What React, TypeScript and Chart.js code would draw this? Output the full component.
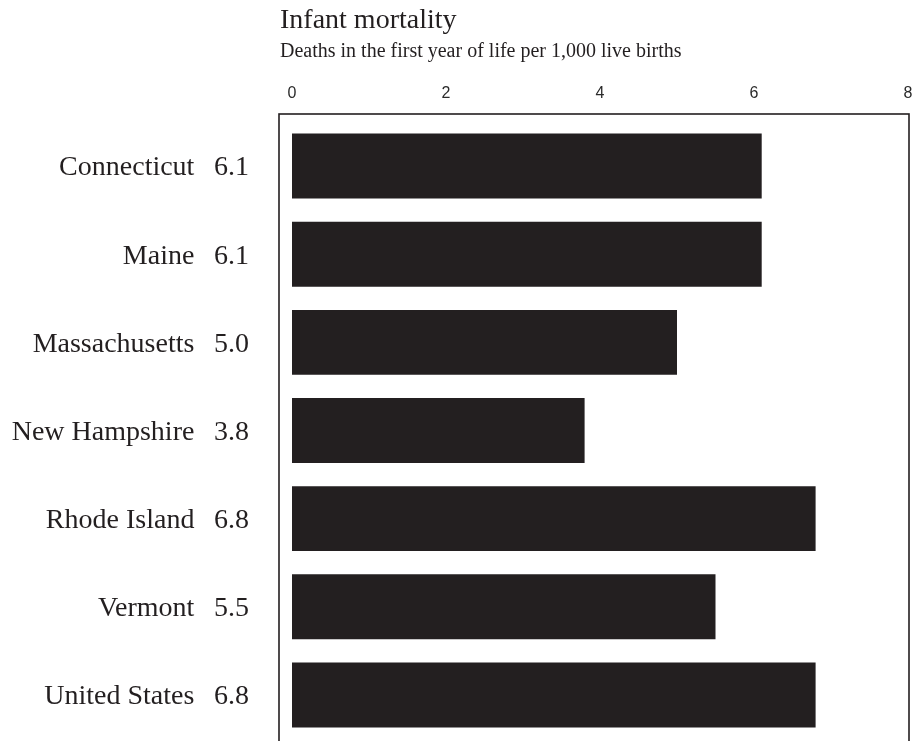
import React, { useEffect, useRef } from 'react';
import { Chart, registerables } from 'chart.js';

Chart.register(...registerables);

const states = ['Connecticut', 'Maine', 'Massachusetts', 'New Hampshire', 'Rhode Island', 'Vermont', 'United States'];
const mortality = [6.1, 6.1, 5.0, 3.8, 6.8, 5.5, 6.8];
const xMin = 0;
const xMax = 8;
const xStep = 2;
const titleText = 'Infant mortality';
const subtitleText = 'Deaths in the first year of life per 1,000 live births';

const INK = '#231f20';
const SERIF = '"Liberation Serif", "Times New Roman", serif';

const labels = states.map((s, i) => `${s}  \u2009${mortality[i].toFixed(1)}`);

const framePlugin = {
  id: 'frameAndTitles',
  afterDraw(chart: any) {
    const { ctx, chartArea } = chart;
    ctx.save();
    ctx.strokeStyle = INK;
    ctx.lineWidth = 1.6;
    ctx.strokeRect(
      chartArea.left - 13,
      chartArea.top - 8,
      chartArea.right - chartArea.left + 14,
      chartArea.bottom - chartArea.top + 16
    );
    ctx.fillStyle = INK;
    ctx.textAlign = 'left';
    ctx.textBaseline = 'alphabetic';
    ctx.font = `28px ${SERIF}`;
    ctx.fillText(titleText, chartArea.left - 12, 20);
    ctx.font = `20px ${SERIF}`;
    ctx.fillText(subtitleText, chartArea.left - 12, 49);
    ctx.restore();
  },
};

export default function App() {
  const ref = useRef<HTMLCanvasElement>(null);

  useEffect(() => {
    if (!ref.current) return;
    const chart = new Chart(ref.current, {
      type: 'bar',
      data: {
        labels,
        datasets: [
          {
            data: mortality,
            backgroundColor: INK,
            borderWidth: 0,
            categoryPercentage: 1,
            barPercentage: 0.737,
          },
        ],
      },
      options: {
        indexAxis: 'y',
        responsive: false,
        animation: false,
        layout: { padding: { top: 76, bottom: 70, left: 0, right: 30 } },
        plugins: {
          legend: { display: false },
          tooltip: { enabled: false },
          title: { display: false },
        },
        scales: {
          x: {
            position: 'top',
            min: xMin,
            max: xMax,
            grid: { display: false, drawTicks: false },
            border: { display: false },
            ticks: {
              stepSize: xStep,
              padding: 19,
              color: '#2b2b2b',
              font: { family: '"Liberation Sans", Arial, sans-serif', size: 16 },
              maxRotation: 0,
            },
            afterFit(scale: any) {
              scale.height = 38;
            },
          },
          y: {
            grid: { display: false, drawTicks: false },
            border: { display: false },
            ticks: {
              padding: 43,
              labelOffset: 2,
              color: INK,
              font: { family: SERIF, size: 28 },
              autoSkip: false,
            },
            afterFit(scale: any) {
              scale.width = 284;
            },
          },
        },
      },
      plugins: [framePlugin],
    });
    return () => chart.destroy();
  }, []);

  return (
    <div style={{ position: 'fixed', left: 8, top: 8, width: 908, height: 733, overflow: 'hidden', background: '#fff' }}>
      <canvas ref={ref} width={930} height={801} style={{ display: 'block', width: 930, height: 801 }} />
    </div>
  );
}
